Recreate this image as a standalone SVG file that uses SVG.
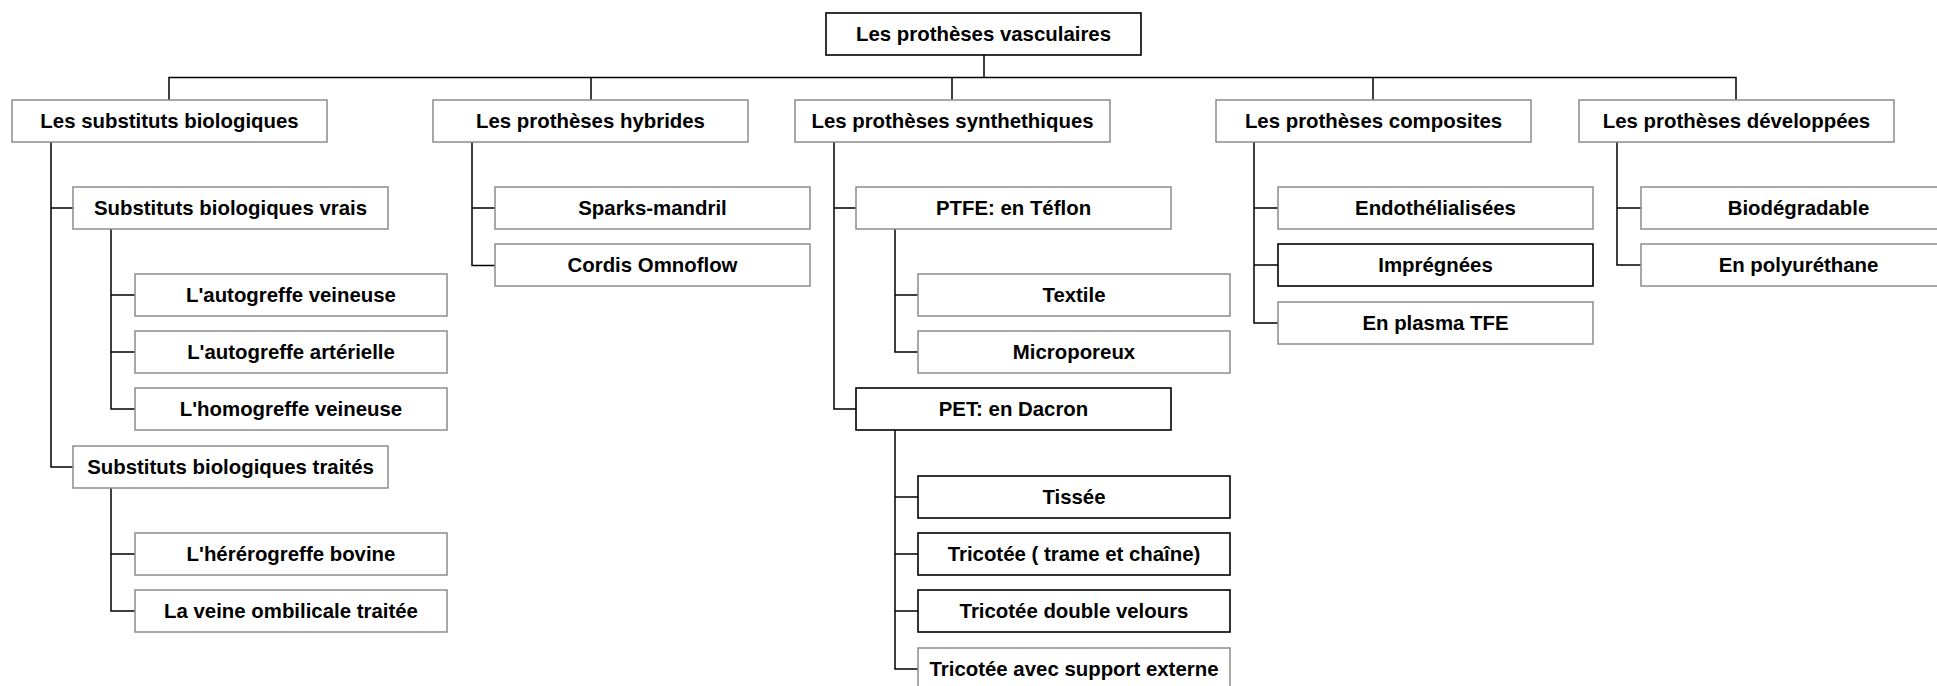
<svg xmlns="http://www.w3.org/2000/svg" width="1937" height="686" viewBox="0 0 1937 686">
<style>
rect{fill:#fff;stroke:#8c8c8c;stroke-width:1.5}
rect.k{stroke:#000;stroke-width:1.6}
text{font-family:"Liberation Sans",Arial,sans-serif;font-weight:bold;font-size:20.4px;fill:#000;text-anchor:middle}
#connectors path{fill:none;stroke:#000;stroke-width:1.5}
</style>
<rect x="0" y="0" width="1937" height="686" style="fill:#fff;stroke:none"/>
<g id="connectors">
<path d="M984 55V77.5M169 100V77.5H1736V100M591 77.5V100M952 77.5V100M1373 77.5V100"/>
<path d="M51 142V467H73M51 208H73"/>
<path d="M111 229V409H135M111 295H135M111 352H135"/>
<path d="M111 488V611H135M111 554H135"/>
<path d="M472 142V265.5H495M472 208H495"/>
<path d="M834 142V409H856M834 208H856"/>
<path d="M895 229V352H918M895 295H918"/>
<path d="M895 430V669H918M895 497H918M895 554H918M895 611H918"/>
<path d="M1254 142V323H1278M1254 208H1278M1254 265H1278"/>
<path d="M1617 142V265H1641M1617 208H1641"/>
</g>
<g id="n-root"><rect class="k" x="826" y="13" width="315" height="42"/><text x="983.5" y="41">Les prothèses vasculaires</text></g>
<g id="n-bio"><rect x="12" y="100" width="315" height="42"/><text x="169.5" y="128">Les substituts biologiques</text></g>
<g id="n-hyb"><rect x="433" y="100" width="315" height="42"/><text x="590.5" y="128">Les prothèses hybrides</text></g>
<g id="n-syn"><rect x="795" y="100" width="315" height="42"/><text x="952.5" y="128">Les prothèses synthethiques</text></g>
<g id="n-comp"><rect x="1216" y="100" width="315" height="42"/><text x="1373.5" y="128">Les prothèses composites</text></g>
<g id="n-dev"><rect x="1579" y="100" width="315" height="42"/><text x="1736.5" y="128">Les prothèses développées</text></g>
<g id="n-vrais"><rect x="73" y="187" width="315" height="42"/><text x="230.5" y="215">Substituts biologiques vrais</text></g>
<g id="n-autov"><rect x="135" y="274" width="312" height="42"/><text x="291" y="302">L'autogreffe veineuse</text></g>
<g id="n-autoa"><rect x="135" y="331" width="312" height="42"/><text x="291" y="359">L'autogreffe artérielle</text></g>
<g id="n-homo"><rect x="135" y="388" width="312" height="42"/><text x="291" y="416">L'homogreffe veineuse</text></g>
<g id="n-traites"><rect x="73" y="446" width="315" height="42"/><text x="230.5" y="474">Substituts biologiques traités</text></g>
<g id="n-hetero"><rect x="135" y="533" width="312" height="42"/><text x="291" y="561">L'hérérogreffe bovine</text></g>
<g id="n-ombil"><rect x="135" y="590" width="312" height="42"/><text x="291" y="618">La veine ombilicale traitée</text></g>
<g id="n-sparks"><rect x="495" y="187" width="315" height="42"/><text x="652.5" y="215">Sparks-mandril</text></g>
<g id="n-cordis"><rect x="495" y="244" width="315" height="42"/><text x="652.5" y="272">Cordis Omnoflow</text></g>
<g id="n-ptfe"><rect x="856" y="187" width="315" height="42"/><text x="1013.5" y="215">PTFE: en Téflon</text></g>
<g id="n-textile"><rect x="918" y="274" width="312" height="42"/><text x="1074" y="302">Textile</text></g>
<g id="n-micro"><rect x="918" y="331" width="312" height="42"/><text x="1074" y="359">Microporeux</text></g>
<g id="n-pet"><rect class="k" x="856" y="388" width="315" height="42"/><text x="1013.5" y="416">PET: en Dacron</text></g>
<g id="n-tissee"><rect class="k" x="918" y="476" width="312" height="42"/><text x="1074" y="504">Tissée</text></g>
<g id="n-trame"><rect class="k" x="918" y="533" width="312" height="42"/><text x="1074" y="561">Tricotée ( trame et chaîne)</text></g>
<g id="n-velours"><rect class="k" x="918" y="590" width="312" height="42"/><text x="1074" y="618">Tricotée double velours</text></g>
<g id="n-support"><rect x="918" y="648" width="312" height="42"/><text x="1074" y="676">Tricotée avec support externe</text></g>
<g id="n-endo"><rect x="1278" y="187" width="315" height="42"/><text x="1435.5" y="215">Endothélialisées</text></g>
<g id="n-impr"><rect class="k" x="1278" y="244" width="315" height="42"/><text x="1435.5" y="272">Imprégnées</text></g>
<g id="n-plasma"><rect x="1278" y="302" width="315" height="42"/><text x="1435.5" y="330">En plasma TFE</text></g>
<g id="n-biodeg"><rect x="1641" y="187" width="315" height="42"/><text x="1798.5" y="215">Biodégradable</text></g>
<g id="n-polyu"><rect x="1641" y="244" width="315" height="42"/><text x="1798.5" y="272">En polyuréthane</text></g>
</svg>
